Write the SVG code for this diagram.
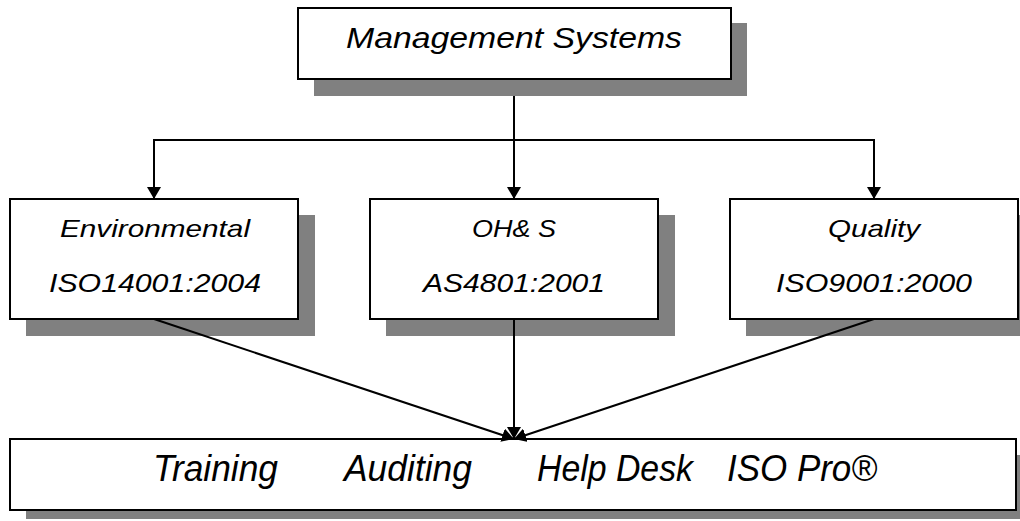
<svg xmlns="http://www.w3.org/2000/svg" width="1020" height="521" viewBox="0 0 1020 521">
  <style>
    .shadow { fill: #808080; }
    .box { fill: #ffffff; stroke: #000000; stroke-width: 2; }
    .lbl { font-family: "Liberation Sans", Arial, sans-serif; font-style: italic; fill: #000000; }
    .wire { stroke: #000000; stroke-width: 2; fill: none; }
  </style>
  <defs>
    <marker id="arrow" viewBox="0 0 12 14" refX="12" refY="7" markerWidth="12" markerHeight="14" markerUnits="userSpaceOnUse" orient="auto">
      <path d="M0,0 L12,7 L0,14 Z" fill="#000000"/>
    </marker>
  </defs>
  <rect width="1020" height="521" fill="#ffffff"/>

  <!-- connectors -->
  <g id="connectors">
    <line class="wire" x1="514" y1="79" x2="514" y2="140"/>
    <line class="wire" x1="153" y1="140" x2="875" y2="140"/>
    <line class="wire" x1="154" y1="140" x2="154" y2="199" marker-end="url(#arrow)"/>
    <line class="wire" x1="514" y1="140" x2="514" y2="199" marker-end="url(#arrow)"/>
    <line class="wire" x1="874" y1="140" x2="874" y2="199" marker-end="url(#arrow)"/>
  </g>

  <!-- top node -->
  <g id="management">
    <rect class="shadow" x="314" y="23" width="433" height="73"/>
    <rect class="box" x="298" y="8" width="433" height="71"/>
    <text class="lbl" x="514" y="48" font-size="29" text-anchor="middle" textLength="336" lengthAdjust="spacingAndGlyphs">Management Systems</text>
  </g>

  <g id="environmental">
    <rect class="shadow" x="26" y="215" width="289" height="121"/>
    <rect class="box" x="10" y="199" width="288" height="120"/>
    <text class="lbl" x="155" y="237" font-size="24" text-anchor="middle" textLength="190" lengthAdjust="spacingAndGlyphs">Environmental</text>
    <text class="lbl" x="155" y="292" font-size="26" text-anchor="middle" textLength="212" lengthAdjust="spacingAndGlyphs">ISO14001:2004</text>
  </g>

  <g id="ohs">
    <rect class="shadow" x="386" y="215" width="289" height="121"/>
    <rect class="box" x="370" y="199" width="288" height="120"/>
    <text class="lbl" x="514" y="237" font-size="24" text-anchor="middle" textLength="84" lengthAdjust="spacingAndGlyphs">OH&amp; S</text>
    <text class="lbl" x="514" y="292" font-size="26" text-anchor="middle" textLength="182" lengthAdjust="spacingAndGlyphs">AS4801:2001</text>
  </g>

  <g id="quality">
    <rect class="shadow" x="746" y="215" width="289" height="121"/>
    <rect class="box" x="730" y="199" width="288" height="120"/>
    <text class="lbl" x="874" y="237" font-size="24" text-anchor="middle" textLength="92" lengthAdjust="spacingAndGlyphs">Quality</text>
    <text class="lbl" x="874" y="292" font-size="26" text-anchor="middle" textLength="196" lengthAdjust="spacingAndGlyphs">ISO9001:2000</text>
  </g>

  <!-- bottom node -->
  <g id="services">
    <rect class="shadow" x="26" y="455" width="1006" height="64"/>
    <rect class="box" x="10" y="439" width="1006" height="71"/>
    <text class="lbl" x="153" y="481" font-size="36" textLength="125" lengthAdjust="spacingAndGlyphs">Training</text>
    <text class="lbl" x="344" y="481" font-size="36" textLength="128" lengthAdjust="spacingAndGlyphs">Auditing</text>
    <text class="lbl" x="537" y="481" font-size="36" textLength="156" lengthAdjust="spacingAndGlyphs">Help Desk</text>
    <text class="lbl" x="727" y="481" font-size="36" textLength="150" lengthAdjust="spacingAndGlyphs">ISO Pro®</text>
  </g>

  <!-- converging arrows into the bottom node -->
  <g id="connectors-lower">
    <line class="wire" x1="154" y1="319" x2="514" y2="439" marker-end="url(#arrow)"/>
    <line class="wire" x1="514" y1="319" x2="514" y2="439" marker-end="url(#arrow)"/>
    <line class="wire" x1="874" y1="319" x2="514" y2="439" marker-end="url(#arrow)"/>
  </g>
</svg>
